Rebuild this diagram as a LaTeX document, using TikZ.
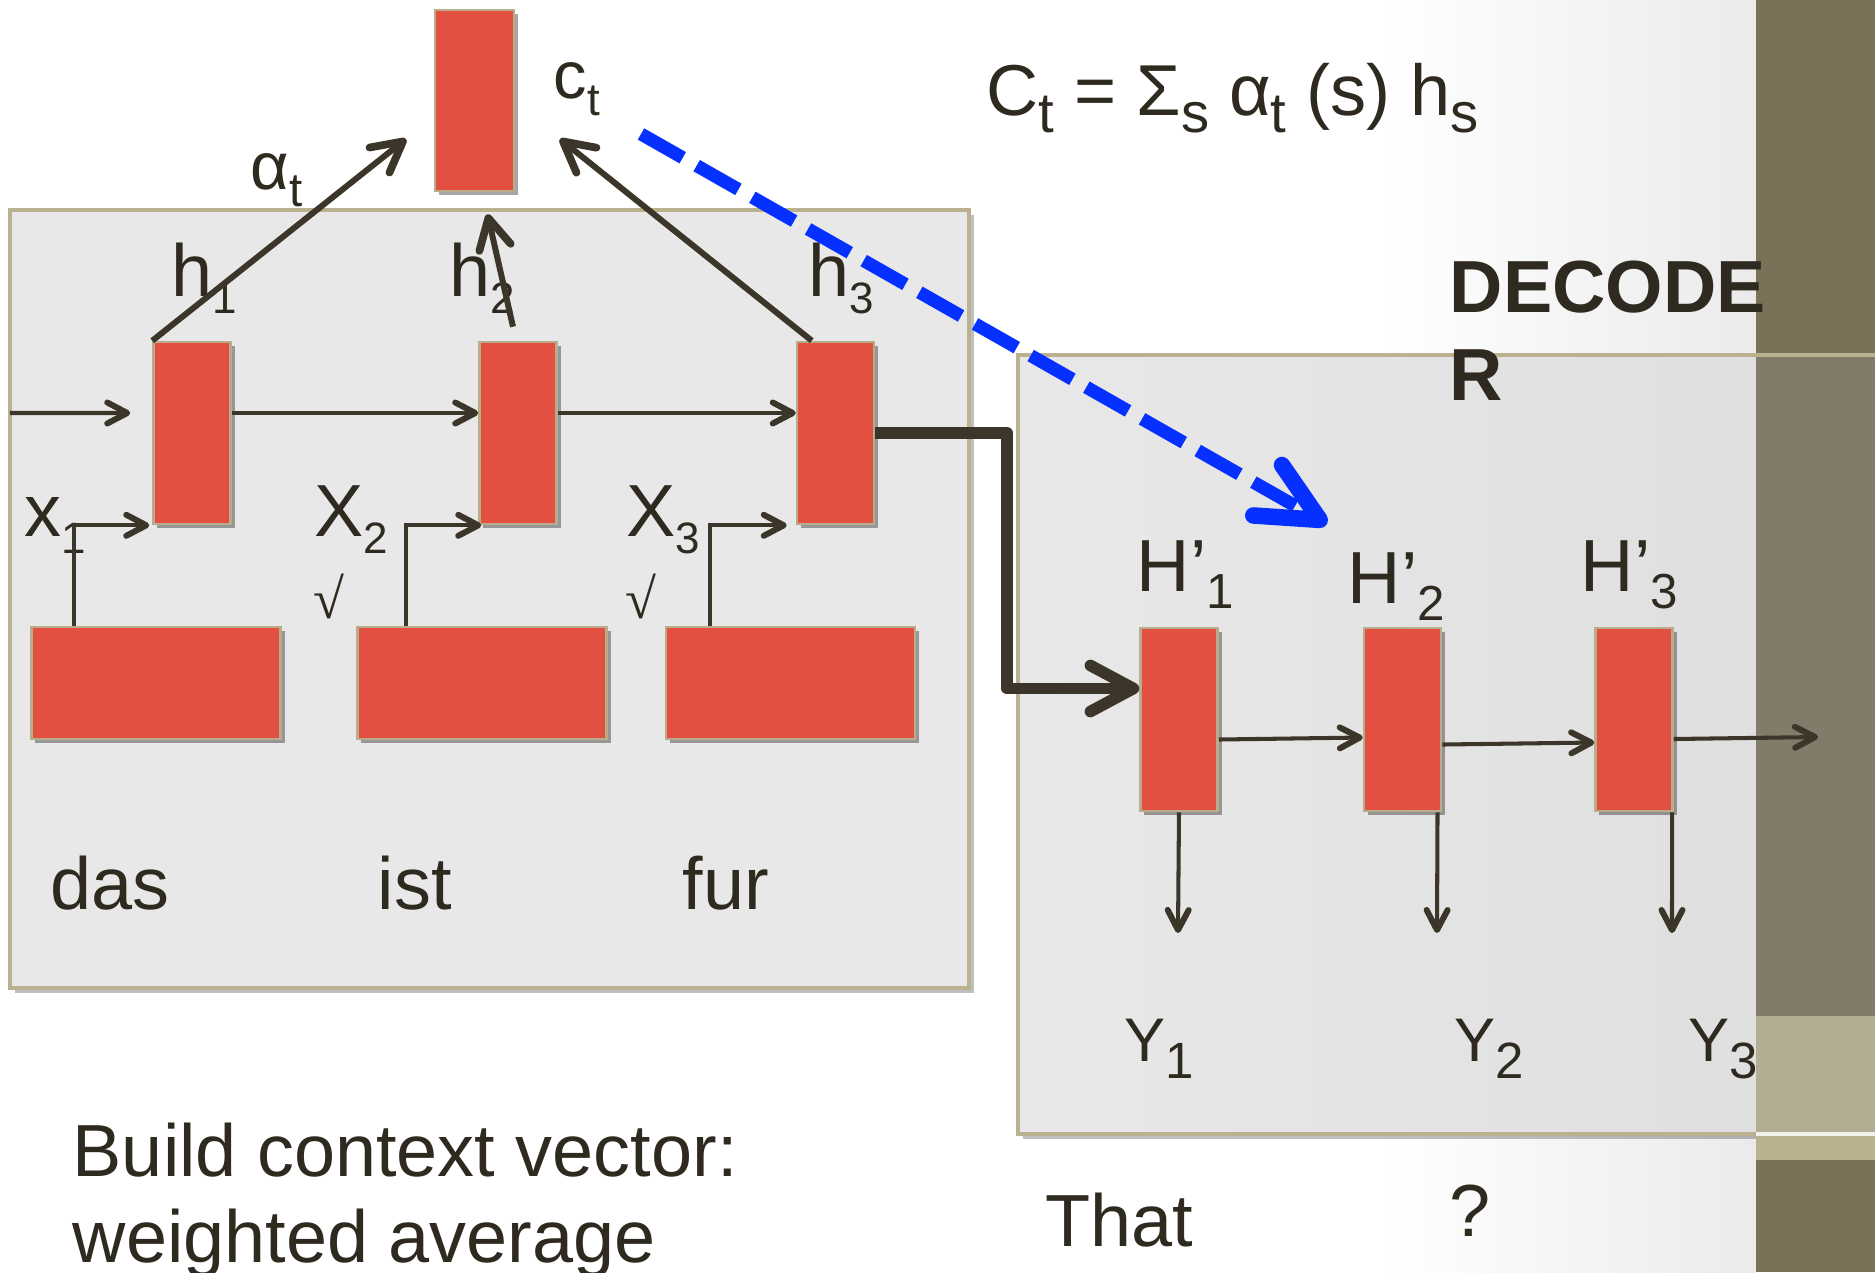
\documentclass[tikz,border=0pt]{standalone}
\usepackage{fontspec}
\setmainfont{Liberation Sans}
\newfontfamily\radicalfont{Liberation Serif}
\usepackage{tikz}
\usetikzlibrary{arrows.meta,shadows,positioning,calc}
\usepackage{xcolor}

\definecolor{cellred}{RGB}{227,80,65}
\definecolor{celledge}{RGB}{184,172,138}
\definecolor{panelgray}{RGB}{232,232,232}
\definecolor{panelfade}{RGB}{222,222,222}
\definecolor{paneledge}{RGB}{186,178,142}
\definecolor{ink}{RGB}{59,54,41}
\definecolor{textink}{RGB}{46,42,31}
\definecolor{attnblue}{RGB}{5,48,255}
\definecolor{bardark}{RGB}{122,113,89}
\definecolor{barmid}{RGB}{130,123,105}
\definecolor{barlight}{RGB}{178,174,147}
\definecolor{bartan}{RGB}{184,178,143}

\newcommand{\lowsub}[2][13]{\raisebox{-5pt}{\fontsize{#1}{#1}\selectfont #2}}

\begin{document}
\begin{tikzpicture}[x=0.01cm, y=-0.01cm,
    cell/.style={draw=celledge, line width=0.7pt, fill=cellred, inner sep=0pt,
        drop shadow={shadow xshift=0.04cm, shadow yshift=-0.04cm, opacity=0.35, fill=black}},
    hcell/.style={cell, minimum width=0.77cm, minimum height=1.82cm},
    ecell/.style={cell, minimum width=2.49cm, minimum height=1.12cm},
    panel/.style={draw=paneledge, line width=0.9pt,
        drop shadow={shadow xshift=0.05cm, shadow yshift=-0.05cm, opacity=0.25, fill=black}},
    lbl/.style={inner sep=0pt, anchor=base west, text=textink, font=\fontsize{21}{25}\selectfont},
    thinarrow/.style={draw=ink, line width=1.15pt, -{Straight Barb[length=0.2cm, width=0.21cm, round, line width=1.7pt]}},
    fatarrow/.style={draw=ink, line width=1.7pt, -{Straight Barb[length=0.3cm, width=0.32cm, round, line width=2.2pt]}},
    bigarrow/.style={draw=ink, line width=3.3pt, line join=round, -{Straight Barb[length=0.43cm, width=0.46cm, round]}},
    attn/.style={draw=attnblue, line width=3.7pt, dash pattern=on 0.48cm off 0.16cm,
        -{Straight Barb[length=0.6cm, width=0.58cm, round, line width=4.7pt]}},
]
    \useasboundingbox (0,0) rectangle (1875,1272);

    % --- Background ---
    \fill[white] (0,0) rectangle (1756,1272);
    \shade[left color=white, right color=black!8] (1380,0) rectangle (1756,1272);

    % --- Panels ---
    \draw[panel, fill=panelgray] (10,210) rectangle (969,988);
    \draw[panel, left color=panelgray, right color=panelfade] (1018,355) rectangle (1875,1134);

    % --- Side bar ---
    \fill[bardark] (1756,0) rectangle (1875,355);
    \fill[barmid] (1756,355) rectangle (1875,1016);
    \fill[barlight] (1756,1016) rectangle (1875,1134);
    \fill[bartan] (1756,1134) rectangle (1875,1160);
    \fill[bardark] (1756,1160) rectangle (1875,1272);
    \draw[paneledge, line width=0.9pt] (1756,355) -- (1875,355);
    \draw[white!80!bartan, line width=0.9pt] (1756,1134) -- (1875,1134);

    % --- Cells ---
    \node[cell, minimum width=0.79cm, minimum height=1.81cm] (ct) at (474.5,100.5) {};
    \node[hcell] (h1) at (192,433) {};
    \node[hcell] (h2) at (518,433) {};
    \node[hcell] (h3) at (835.5,433) {};
    \node[ecell] (e1) at (156,683) {};
    \node[ecell] (e2) at (482,683) {};
    \node[ecell] (e3) at (790.5,683) {};
    \node[hcell, minimum height=1.83cm] (d1) at (1179,719.5) {};
    \node[hcell, minimum height=1.83cm] (d2) at (1402.5,719.5) {};
    \node[hcell, minimum height=1.83cm] (d3) at (1634,719.5) {};

    % --- Labels ---
    \node[lbl, font=\fontsize{19}{19}\selectfont] (lalpha) at (250,189) {α\lowsub[13.5]{t}};
    \node[lbl, font=\fontsize{19}{19}\selectfont] (lct) at (553,98) {c\lowsub[13]{t}};
    \node[lbl, font=\fontsize{20.5}{24}\selectfont] (leq) at (986,115) {C\lowsub[16]{t} = Σ\lowsub[16]{s} α\lowsub[16]{t} (s) h\lowsub[16]{s}};
    \node[lbl] (lh1) at (171,296) {h\lowsub[12.5]{1}};
    \node[lbl] (lh2) at (449,296) {h\lowsub[12.5]{2}};
    \node[lbl] (lh3) at (808,296) {h\lowsub[12.5]{3}};
    \node[lbl] (lx1) at (24,536) {x\lowsub[12.5]{1}};
    \node[lbl] (lx2) at (314,536) {X\lowsub[12.5]{2}};
    \node[lbl] (lx3) at (626,536) {X\lowsub[12.5]{3}};
    \node[inner sep=0pt, text=textink, font=\radicalfont\fontsize{16}{16}\selectfont] (v2) at (329,596) {√};
    \node[inner sep=0pt, text=textink, font=\radicalfont\fontsize{16}{16}\selectfont] (v3) at (641,596) {√};
    \node[lbl] (wdas) at (50,909) {das};
    \node[lbl] (wist) at (377,909) {ist};
    \node[lbl] (wfur) at (682,909) {fur};
    \node[lbl, font=\bfseries\fontsize{21}{25}\selectfont] (ldec1) at (1449,312) {DECODE};
    \node[lbl, font=\bfseries\fontsize{21}{25}\selectfont] (ldec2) at (1449,400) {R};
    \node[lbl] (ld1) at (1136,591) {H’\lowsub[14]{1}};
    \node[lbl] (ld2) at (1347,603) {H’\lowsub[14]{2}};
    \node[lbl] (ld3) at (1580,591) {H’\lowsub[14]{3}};
    \node[lbl, font=\fontsize{17.5}{20}\selectfont] (ly1) at (1124,1061) {Y\lowsub[14.5]{1}};
    \node[lbl, font=\fontsize{17.5}{20}\selectfont] (ly2) at (1454,1061) {Y\lowsub[14.5]{2}};
    \node[lbl, font=\fontsize{17.5}{20}\selectfont] (ly3) at (1688,1061) {Y\lowsub[14.5]{3}};
    \node[lbl] (wthat) at (1045,1246) {That};
    \node[lbl] (wq) at (1449,1236) {?};
    \node[lbl] (note1) at (72,1176) {Build context vector:};
    \node[lbl] (note2) at (72,1262) {weighted average};

    % --- Free ends ---
    \coordinate (instart) at (10,413);
    \coordinate (alphatip) at (406,139);
    \coordinate (h3tip) at (560,139);
    \coordinate (elbow) at (1007,433);
    \coordinate (blueA) at (641,134);
    \coordinate (blueB) at (1327,524);
    \coordinate (y1end) at (1178,933);
    \coordinate (y2end) at (1437,933);
    \coordinate (y3end) at (1672,933);
    \coordinate (outend) at (1818,737);

    % --- Encoder arrows ---
    \draw[thinarrow] (instart) -- ([yshift=0.2cm, xshift=-0.22cm]h1.west);
    \draw[thinarrow] ([yshift=0.2cm]h1.east) -- ([yshift=0.2cm]h2.west);
    \draw[thinarrow] ([yshift=0.2cm]h2.east) -- ([yshift=0.2cm]h3.west);
    \draw[thinarrow] ([xshift=0.44cm]e1.north west) |- ([xshift=-0.03cm]h1.south west);
    \draw[thinarrow] ([xshift=0.5cm]e2.north west) |- ([xshift=0.03cm]h2.south west);
    \draw[thinarrow] ([xshift=0.45cm]e3.north west) |- ([xshift=-0.09cm]h3.south west);
    \draw[fatarrow] (h1.north west) -- (alphatip);
    \draw[fatarrow] ([xshift=-0.05cm, yshift=0.14cm]h2.north) -- ([xshift=0.13cm, yshift=-0.22cm]ct.south);
    \draw[fatarrow] ([xshift=0.16cm]h3.north west) -- (h3tip);

    % --- Decoder arrows ---
    \draw[bigarrow] (h3.east) -- (elbow) |- ([yshift=0.31cm]d1.west);
    \draw[thinarrow] ([yshift=-0.2cm]d1.east) -- ([yshift=-0.18cm]d2.west);
    \draw[thinarrow] ([yshift=-0.25cm]d2.east) -- ([yshift=-0.23cm]d3.west);
    \draw[thinarrow] ([yshift=-0.195cm]d3.east) -- (outend);
    \draw[thinarrow] (d1.south) -- (y1end);
    \draw[thinarrow] ([xshift=0.35cm]d2.south) -- (y2end);
    \draw[thinarrow] ([xshift=0.38cm]d3.south) -- (y3end);

    % --- Attention ---
    \draw[attn] (blueA) -- (blueB);
\end{tikzpicture}
\end{document}
